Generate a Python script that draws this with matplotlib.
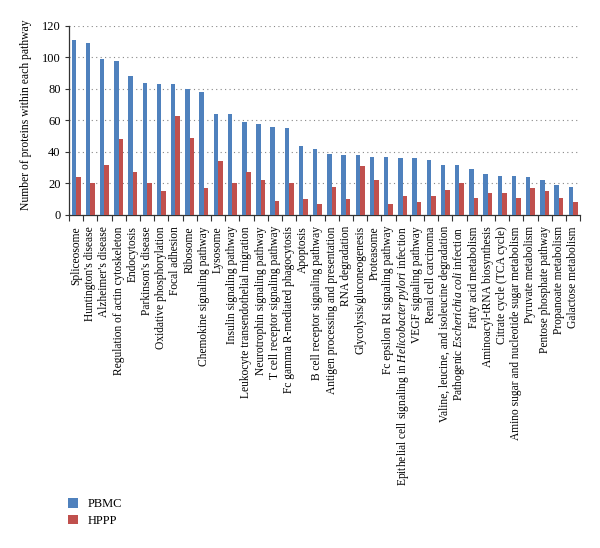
import matplotlib
matplotlib.use("Agg")
import matplotlib.pyplot as plt
import numpy as np

categories = [
    "Spliceosome", "Huntington's disease", "Alzheimer's disease",
    "Regulation of actin cytoskeleton", "Endocytosis", "Parkinson's disease",
    "Oxidative phosphorylation", "Focal adhesion", "Ribosome",
    "Chemokine signaling pathway", "Lysosome", "Insulin signaling pathway",
    "Leukocyte transendothelial migration", "Neurotrophin signaling pathway",
    "T cell receptor signaling pathway", "Fc gamma R-mediated phagocytosis",
    "Apoptosis", "B cell receptor signaling pathway",
    "Antigen processing and presentation", "RNA degradation",
    "Glycolysis/gluconeogenesis", "Proteasome",
    "Fc epsilon RI signaling pathway",
    "Epithelial cell signaling in $\\mathit{Helicobacter\\ pylori}$ infection",
    "VEGF signaling pathway", "Renal cell carcinoma",
    "Valine, leucine, and isoleucine degradation",
    "Pathogenic $\\mathit{Escherichia\\ coli}$ infection",
    "Fatty acid metabolism", "Aminoacyl-tRNA biosynthesis",
    "Citrate cycle (TCA cycle)", "Amino sugar and nucleotide sugar metabolism",
    "Pyruvate metabolism", "Pentose phosphate pathway",
    "Propanoate metabolism", "Galactose metabolism",
]
pbmc = [111, 109, 99, 98, 88, 84, 83, 83, 80, 78, 64, 64, 59, 58, 56, 55,
        44, 42, 39, 38, 38, 37, 37, 36, 36, 35, 32, 32, 29, 26, 25, 25,
        24, 22, 19, 18]
hppp = [24, 20, 32, 48, 27, 20, 15, 63, 49, 17, 34, 20, 27, 22, 9, 20,
        10, 7, 18, 10, 31, 22, 7, 12, 8, 12, 16, 20, 11, 14, 14, 11,
        17, 15, 11, 8]
series_names = ["PBMC", "HPPP"]
yticks = [0, 20, 40, 60, 80, 100, 120]
ylabel = "Number of proteins within each pathway"

plt.rcParams['font.family'] = ['Liberation Serif', 'DejaVu Serif']
plt.rcParams['mathtext.fontset'] = 'custom'
plt.rcParams['mathtext.rm'] = 'Liberation Serif'
plt.rcParams['mathtext.it'] = 'Liberation Serif:italic'

blue = '#4F81BD'
red = '#C0504D'

fig = plt.figure(figsize=(6.0, 5.48), dpi=100)
ax = fig.add_axes([0.115, 0.6077, 0.852, 0.345])

x = np.arange(len(categories))
w = 0.31
b1 = ax.bar(x - w / 2, pbmc, width=w, color=blue, label=series_names[0], zorder=3)
b2 = ax.bar(x + w / 2, hppp, width=w, color=red, label=series_names[1], zorder=3)

ax.set_xlim(-0.5, len(categories) - 0.5)
ax.set_ylim(0, 120)
ax.set_yticks(yticks)
ax.set_yticklabels([str(v) for v in yticks], fontsize=9)
ax.yaxis.grid(True, linestyle=(0, (1, 3)), color='#888888', linewidth=0.8, zorder=0)
ax.set_axisbelow(True)

ax.set_xticks(x)
ax.set_xticklabels(categories, rotation=90, fontsize=8.3, va='top', ha='center')
ax.tick_params(axis='x', length=0, pad=8)
ax.set_xticks(np.arange(-0.5, len(categories), 1.0), minor=True)
ax.tick_params(axis='x', which='minor', length=4, width=0.8, color='#333333')
ax.tick_params(axis='y', length=3, width=0.8, color='#333333', pad=3)

for s in ['top', 'right']:
    ax.spines[s].set_visible(False)
for s in ['left', 'bottom']:
    ax.spines[s].set_color('#333333')
    ax.spines[s].set_linewidth(0.9)

ax.set_ylabel(ylabel, fontsize=8.4)
ax.yaxis.set_label_coords(-0.072, 0.53)

fig.legend(handles=[b1, b2], labels=series_names, loc='upper left',
           bbox_to_anchor=(0.105, 0.1), frameon=False, fontsize=9,
           handlelength=0.8, handleheight=0.8, handletextpad=0.8,
           labelspacing=0.35, borderaxespad=0)

fig.savefig("out.png", dpi=100)
